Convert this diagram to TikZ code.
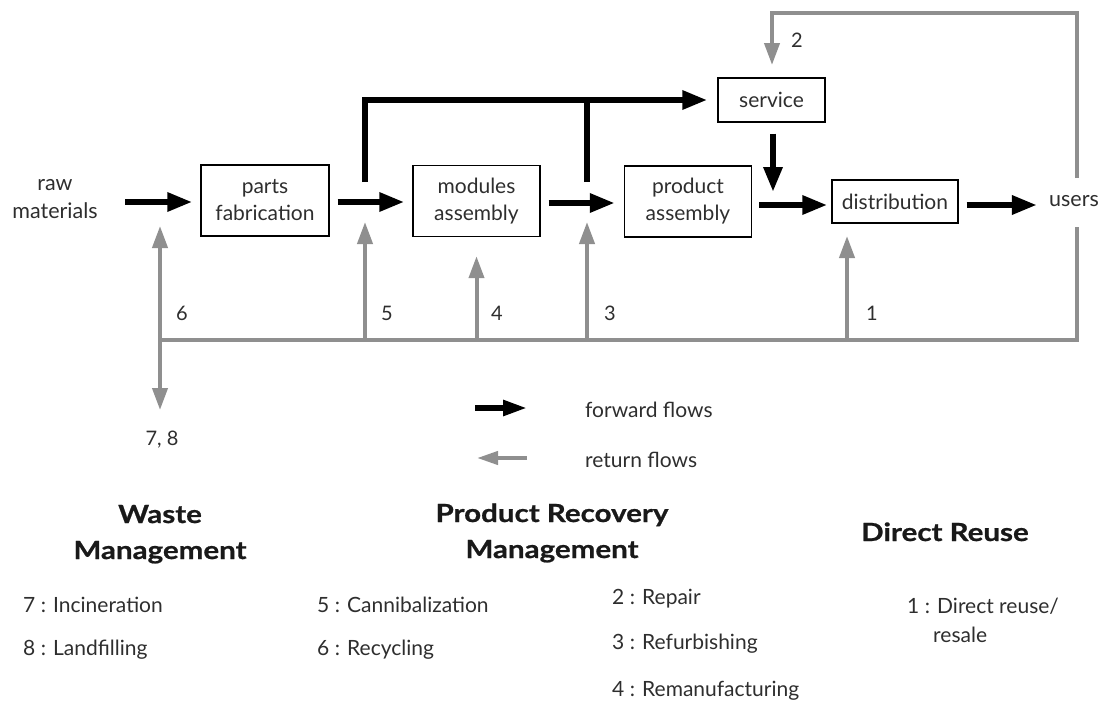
\documentclass[tikz,border=0pt]{standalone}
\usepackage{fontspec}
\setmainfont{Lato}
\newfontfamily\headfont[FakeStretch=1.18, BoldFeatures={FakeBold=0.8}]{Lato}
\usetikzlibrary{arrows.meta}
\definecolor{retgray}{HTML}{8F8F8F}
\definecolor{ink}{HTML}{2E2E2E}
\begin{document}
\begin{tikzpicture}[x=1pt,y=-1pt,
  txt/.style={font=\fontsize{21.5}{28}\selectfont, text=ink, align=center, inner sep=0pt},
  stage/.style={draw, line width=1.4pt, inner sep=0pt, align=center,
                font=\fontsize{21}{27}\selectfont, text=ink},
  fwd/.style={line width=6pt, -{Triangle[length=25pt,width=18pt]}},
  fwdline/.style={line width=6pt},
  rtn/.style={draw=retgray, line width=4pt, -{Triangle[length=22pt,width=15pt]}},
  rtnline/.style={draw=retgray, line width=4pt},
  num/.style={font=\fontsize{20}{24}\selectfont, text=ink, inner sep=0pt},
  head/.style={font=\headfont\fontsize{25}{36}\selectfont\bfseries, text=black!90, anchor=base, inner sep=0pt},
  item/.style={font=\fontsize{21}{26}\selectfont, text=ink, anchor=base west, inner sep=0pt},
]
\path[use as bounding box] (0,0) rectangle (1110,704);

% stages of the forward chain
\node[txt] (raw) at (55,199) {raw\\materials};
\node[stage, minimum width=128pt, minimum height=71pt] (parts) at (265,200.5) {parts\\fabrication};
\node[stage, minimum width=127pt, minimum height=71pt] (modules) at (476.5,201) {modules\\assembly};
\node[stage, minimum width=127pt, minimum height=71pt] (product) at (688,201.5) {product\\assembly};
\node[stage, minimum width=107pt, minimum height=44pt] (service) at (771.5,100) {service};
\node[stage, minimum width=126pt, minimum height=43pt] (distribution) at (895,201.5) {distribution};
\node[txt] (users) at (1074,201) {users};

% junction points
\coordinate (j1) at (365,202);
\coordinate (j2) at (587,203);
\coordinate (top1) at (365,100);
\coordinate (top2) at (587,100);
\coordinate (br) at (1077,340);
\coordinate (bl) at (160,340);
\coordinate (tr) at (1077,13);
\coordinate (tl) at (772,13);

% forward flows
\draw[fwd] (125,202) coordinate (rawout) -- ([xshift=-8pt]parts.west |- rawout);
\draw[fwd] ([xshift=8pt]parts.east |- j1) -- ([xshift=-8pt]modules.west |- j1);
\draw[fwd] ([xshift=8pt]modules.east |- j2) -- ([xshift=-9pt]product.west |- j2);
\draw[fwd] ([xshift=7pt]product.east |- 0,205) -- ([xshift=-4pt]distribution.west |- 0,205);
\draw[fwd] ([xshift=8pt]distribution.east |- 0,205) -- ([xshift=-12pt]users.west |- 0,205);
\draw[fwd] (365,182) -- (top1) -- ([xshift=-10pt]service.west);
\draw[fwdline] (587,182) -- (top2);
\draw[fwd] ([yshift=-11pt]service.south -| 773,0) -- (773,192);

% return flows
\draw[rtnline] (1077,227) -- (br) -- (bl);
\draw[rtn] (1077,178) -- (tr) -- (tl) -- (772,65);
\draw[rtn] (bl) -- (160,226);
\draw[rtn] (365,340) -- (365,222);
\draw[rtn] (modules.south |- bl) -- ([yshift=-19pt]modules.south);
\draw[rtn] (587,340) -- (587,222);
\draw[rtn] (847,340) -- (847,236);
\draw[rtn] ([yshift=1pt]bl) -- (160,410);

% flow numbers
\node[num] (n2) at (797,40) {2};
\node[num] (n6) at (182,313) {6};
\node[num] (n5) at (387,313) {5};
\node[num] (n4) at (497,313) {4};
\node[num] (n3) at (610,313) {3};
\node[num] (n1) at (872,313) {1};
\node[num] (n78) at (162,440) {7, 8};

% legend
\coordinate (lf1) at (475,408);
\coordinate (lf2) at (527,408);
\coordinate (lr1) at (527,458);
\coordinate (lr2) at (477,458);
\draw[line width=5.5pt, -{Triangle[length=24pt,width=15pt]}] (lf1) -- (lf2);
\draw[draw=retgray, line width=4pt, -{Triangle[length=21pt,width=13pt]}] (lr1) -- (lr2);
\node[item] (lfwd) at (585,417) {forward flows};
\node[item] (lret) at (585,467) {return flows};

% categories
\node[head] (waste1) at (160,523) {Waste};
\node[head] (waste2) at (160,559) {Management};
\node[head] (prm1) at (552,522) {Product Recovery};
\node[head] (prm2) at (552,558) {Management};
\node[head] (reuse) at (945,541) {Direct Reuse};

\node[item] (i7) at (23,612) {7 : Incineration};
\node[item] (i8) at (23,655) {8 : Landfilling};
\node[item] (i5) at (317,612) {5 : Cannibalization};
\node[item] (i6) at (317,655) {6 : Recycling};
\node[item] (i2) at (612,604) {2 : Repair};
\node[item] (i3) at (612,649) {3 : Refurbishing};
\node[item] (i4) at (612,696) {4 : Remanufacturing};
\node[item] (i1) at (907,613) {1 : Direct reuse/};
\node[item] (i1b) at (933,642) {resale};
\end{tikzpicture}
\end{document}
